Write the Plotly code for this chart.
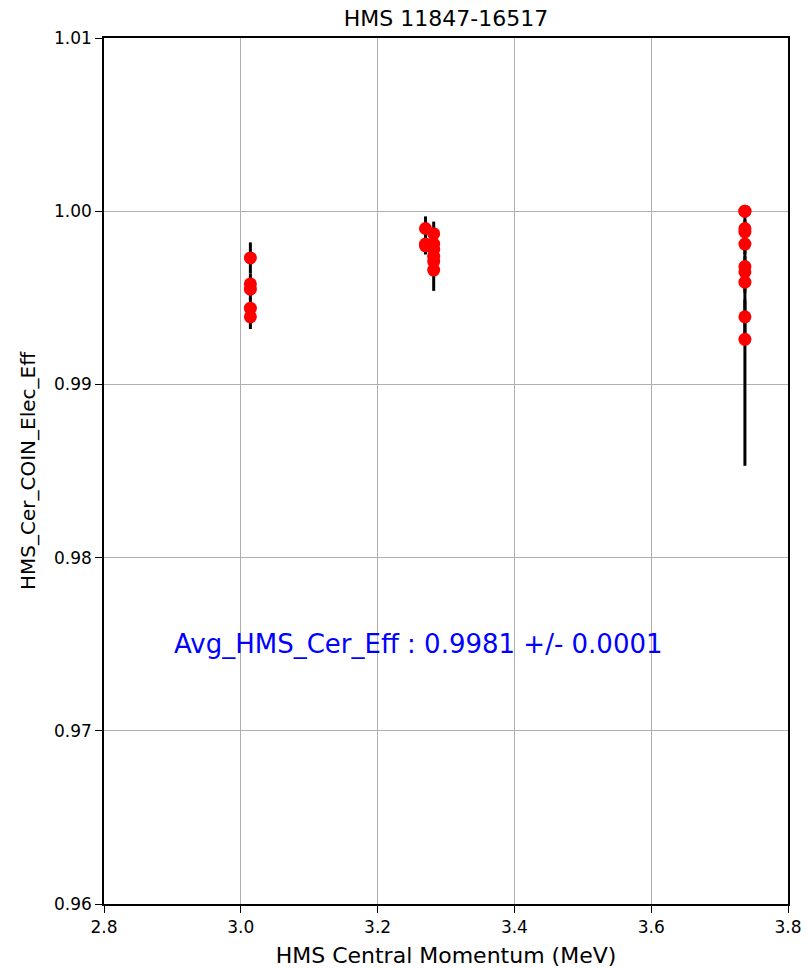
import plotly.graph_objects as go

# Data
momentum = [3.014, 3.014, 3.014, 3.014, 3.014,
            3.270, 3.270, 3.270,
            3.282, 3.282, 3.282, 3.282, 3.282, 3.282,
            3.737, 3.737, 3.737, 3.737, 3.737, 3.737, 3.737, 3.737, 3.737, 3.737]
efficiency = [0.9973, 0.9958, 0.9955, 0.9944, 0.9939,
              0.9990, 0.9981, 0.9980,
              0.9987, 0.9981, 0.9978, 0.9974, 0.9971, 0.9966,
              1.0000, 1.0000, 0.9990, 0.9988, 0.9981, 0.9968, 0.9965, 0.9959, 0.9939, 0.9926]
eff_error = [0.0009, 0.0006, 0.0006, 0.0006, 0.0007,
             0.0007, 0.0005, 0.0005,
             0.0007, 0.0006, 0.0006, 0.0006, 0.0006, 0.0012,
             0.0003, 0.0003, 0.0005, 0.0005, 0.0006, 0.0006, 0.0006, 0.0006, 0.0010, 0.0073]

x_ticks = [2.8, 3.0, 3.2, 3.4, 3.6, 3.8]
x_tick_labels = ["2.8", "3.0", "3.2", "3.4", "3.6", "3.8"]
y_ticks = [0.96, 0.97, 0.98, 0.99, 1.00, 1.01]
y_tick_labels = ["0.96", "0.97", "0.98", "0.99", "1.00", "1.01"]

title_text = "HMS 11847-16517"
x_title = "HMS Central Momentum (MeV)"
y_title = "HMS_Cer_COIN_Elec_Eff"
avg_text = "Avg_HMS_Cer_Eff : 0.9981 +/- 0.0001"
avg_pos = (2.9, 0.975)

FONT = "DejaVu Sans"

fig = go.Figure()
fig.add_trace(go.Scatter(
    x=momentum, y=efficiency, mode="markers",
    marker=dict(color="#ff0000", size=13, line=dict(width=0)),
    error_y=dict(type="data", array=eff_error, visible=True,
                 color="black", thickness=3, width=0),
    showlegend=False,
))

fig.add_annotation(
    x=avg_pos[0], y=avg_pos[1], xref="x", yref="y",
    text=avg_text, showarrow=False, xanchor="left", yanchor="middle",
    font=dict(family=FONT, size=26, color="#0000ff"),
)

axis_common = dict(
    showline=True, linecolor="black", linewidth=1.5, mirror=True,
    ticks="outside", ticklen=7, tickwidth=1.2, tickcolor="black",
    showgrid=True, gridcolor="#b0b0b0", gridwidth=1,
    zeroline=False, automargin=False,
    tickfont=dict(family=FONT, size=17, color="black"),
)

fig.update_xaxes(
    range=[2.8, 3.8], tickvals=x_ticks, ticktext=x_tick_labels,
    title=dict(text=x_title, font=dict(family=FONT, size=22, color="black"), standoff=11),
    **axis_common,
)
fig.update_yaxes(
    range=[0.96, 1.01], tickvals=y_ticks, ticktext=y_tick_labels,
    title=dict(text=y_title, font=dict(family=FONT, size=20, color="black"), standoff=13),
    **axis_common,
)

fig.update_layout(
    width=807, height=968,
    margin=dict(l=104, r=19, t=38, b=64, autoexpand=False),
    paper_bgcolor="white", plot_bgcolor="white",
    title=dict(text=title_text, x=0.5, xref="paper", xanchor="center",
               y=1 - 18 / 968, yanchor="middle", yref="container",
               font=dict(family=FONT, size=22, color="black")),
)

fig.write_html(
    "out.html",
    config={"displayModeBar": False, "responsive": False},
    post_script=(
        "document.body.style.margin='0';"
        "document.body.style.overflow='hidden';"
        "document.documentElement.style.overflow='hidden';"
    ),
)
